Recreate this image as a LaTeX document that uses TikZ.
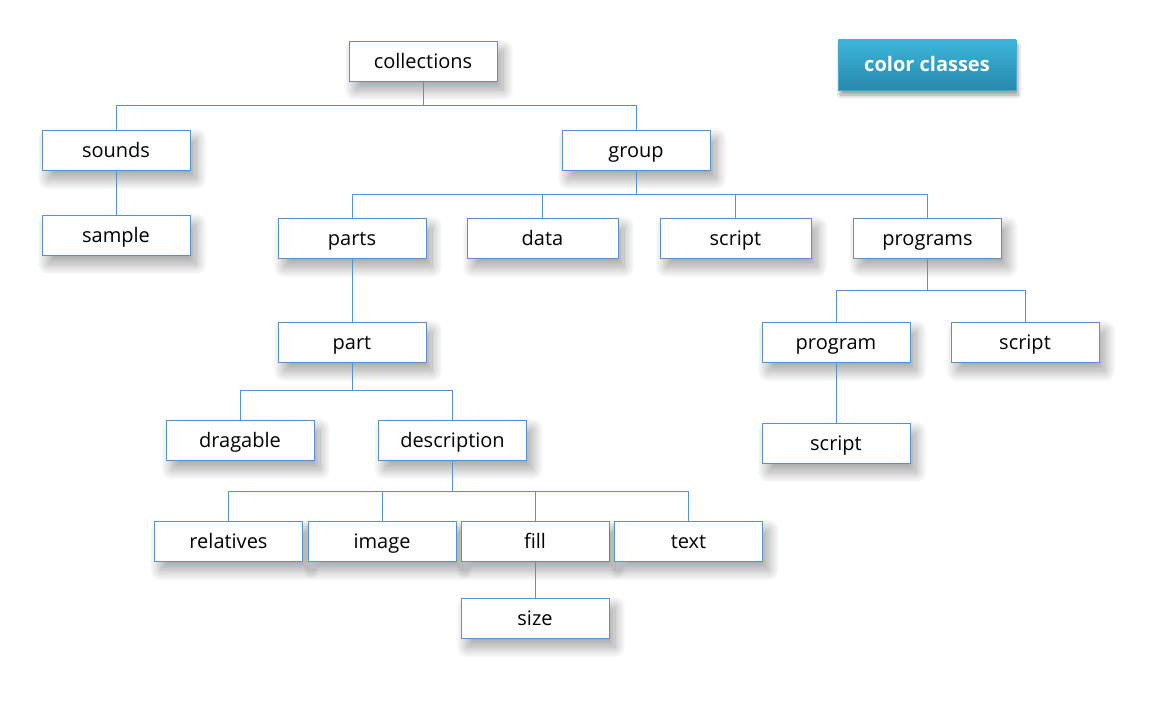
\documentclass[tikz,border=0pt]{standalone}
\usepackage{fontspec}
\setmainfont{Open Sans}
\usetikzlibrary{shadows.blur}
\definecolor{boxline}{RGB}{88,146,206}
\definecolor{ccTop}{RGB}{58,182,218}
\definecolor{ccBot}{RGB}{40,136,172}
\definecolor{ccLine}{RGB}{70,170,205}
\tikzset{
  cbox/.style={draw=boxline, line width=0.9pt, fill=white, minimum width=148pt, minimum height=40pt, inner sep=0pt,
    text height=14pt, text depth=0pt,
    font=\fontsize{20}{24}\selectfont,
    blur shadow={shadow xshift=6pt, shadow yshift=-9pt, shadow blur radius=11pt, shadow blur steps=25, shadow opacity=38}},
  wbox/.style={cbox, minimum width=151pt},
  link/.style={draw=boxline, line width=0.9pt},
  ccbox/.style={draw=ccLine, line width=0.9pt, top color=ccTop, bottom color=ccBot, minimum width=178pt, minimum height=50pt,
    inner sep=0pt, text height=14pt, text depth=0pt, text=white, font=\fontsize{20}{24}\selectfont\bfseries,
    blur shadow={shadow xshift=2pt, shadow yshift=-5pt, shadow blur radius=4pt, shadow opacity=40}}
}
\begin{document}
\begin{tikzpicture}[x=1pt,y=-1pt]
\useasboundingbox (0,0) rectangle (1159,701);
\node[cbox] (collections) at (423,61) {collections};
\node[ccbox] (colorclasses) at (927,65) {color classes};
\node[cbox] (sounds) at (116,150) {sounds};
\node[cbox] (sample) at (116,235) {sample};
\node[cbox] (group) at (636,150) {group};
\node[cbox] (parts) at (352,238) {parts};
\node[wbox] (data) at (542.5,238) {data};
\node[wbox] (script1) at (735.5,238) {script};
\node[cbox] (programs) at (927.5,238) {programs};
\node[cbox] (part) at (352,342) {part};
\node[cbox] (program) at (836,342) {program};
\node[cbox] (script2) at (1025,342) {script};
\node[cbox] (script3) at (836,443) {script};
\node[cbox] (dragable) at (240,440) {dragable};
\node[cbox] (description) at (452.5,440) {description};
\node[cbox] (relatives) at (228.5,541) {relatives};
\node[cbox] (image) at (382,541) {image};
\node[cbox] (fill) at (535,541) {fill};
\node[cbox] (text) at (688.5,541) {text};
\node[cbox] (size) at (535,618) {size};

\draw[link] (collections.south) -- ++(0,24) -| (sounds);
\draw[link] (collections.south) -- ++(0,24) -| (group);
\draw[link] (sounds) -- (sample);
\draw[link] (group.south) -- ++(0,24) -| (parts);
\draw[link] (group.south) -- ++(0,24) -| (data);
\draw[link] (group.south) -- ++(0,24) -| (script1);
\draw[link] (group.south) -- ++(0,24) -| (programs);
\draw[link] (parts) -- (part);
\draw[link] (programs.south) -- ++(0,32) -| (program);
\draw[link] (programs.south) -- ++(0,32) -| (script2);
\draw[link] (program) -- (script3);
\draw[link] (part.south) -- ++(0,28) -| (dragable);
\draw[link] (part.south) -- ++(0,28) -| (description);
\draw[link] (description.south) -- ++(0,31) -| (relatives);
\draw[link] (description.south) -- ++(0,31) -| (image);
\draw[link] (description.south) -- ++(0,31) -| (fill);
\draw[link] (description.south) -- ++(0,31) -| (text);
\draw[link] (fill) -- (size);
\end{tikzpicture}
\end{document}
